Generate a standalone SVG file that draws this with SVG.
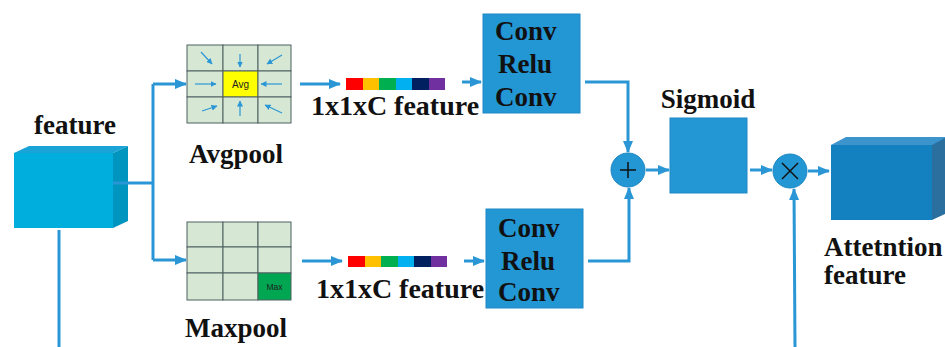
<svg xmlns="http://www.w3.org/2000/svg" width="945" height="347" viewBox="0 0 945 347">
  <style>
    .lbl { font-family: "Liberation Serif", "LiberationSerif", "Times New Roman", Times, "DejaVu Serif", serif; font-weight: 700; font-size: 27px; fill: #111; }
    .vec { font-size: 28px; }
    .small { font-family: "Liberation Sans", Arial, sans-serif; fill: #222; }
    .line { fill: none; stroke: #2A96D6; stroke-width: 3; }
    .thin { fill: none; stroke: #2A96D6; stroke-width: 1.2; }
    .cell { fill: #D6E8D3; stroke: #4E6060; stroke-width: 1; }
    .blk { fill: #2396D4; stroke: #1E88C4; stroke-width: 1; }
    .op { fill: #2396D4; stroke: #1E88C4; stroke-width: 1; }
  </style>
  <defs>
    <marker id="arr" markerUnits="userSpaceOnUse" markerWidth="12" markerHeight="10" refX="11" refY="5" orient="auto">
      <path d="M0,0 L12,5 L0,10 Z" fill="#2A96D6"/>
    </marker>
    <marker id="arrs" markerUnits="userSpaceOnUse" markerWidth="6" markerHeight="6" refX="5.5" refY="3" orient="auto">
      <path d="M0,0 L6,3 L0,6 Z" fill="#2A96D6"/>
    </marker>
  </defs>

  <!-- input feature cube -->
  <g id="feature">
    <polygon points="14,153 29,146 128,146 113,153" fill="#1AA3D6"/>
    <polygon points="113,153 128,146 128,221 113,228" fill="#0095BF"/>
    <rect x="14" y="153" width="99" height="75" fill="#00AEDE"/>
    <text class="lbl" x="75" y="134" text-anchor="middle">feature</text>
  </g>

  <!-- average pooling grid -->
  <g id="avgpool">
    <rect class="cell" x="187" y="45" width="36" height="26"/>
    <rect class="cell" x="223" y="45" width="35" height="26"/>
    <rect class="cell" x="258" y="45" width="33" height="26"/>
    <rect class="cell" x="187" y="71" width="36" height="26"/>
    <rect x="223" y="71" width="35" height="26" fill="#FFFF00" stroke="#4E6060" stroke-width="1"/>
    <rect class="cell" x="258" y="71" width="33" height="26"/>
    <rect class="cell" x="187" y="97" width="36" height="26"/>
    <rect class="cell" x="223" y="97" width="35" height="26"/>
    <rect class="cell" x="258" y="97" width="33" height="26"/>
    <text class="small" x="240.5" y="88" font-size="10" text-anchor="middle">Avg</text>
    <g marker-end="url(#arrs)">
      <line class="thin" x1="201" y1="52" x2="212" y2="64"/>
      <line class="thin" x1="240" y1="54" x2="240" y2="67"/>
      <line class="thin" x1="282" y1="55" x2="267" y2="64"/>
      <line class="thin" x1="195" y1="84" x2="216" y2="84"/>
      <line class="thin" x1="282" y1="84" x2="261" y2="84"/>
      <line class="thin" x1="202" y1="111" x2="217" y2="106"/>
      <line class="thin" x1="240" y1="116" x2="240" y2="101"/>
      <line class="thin" x1="282" y1="113" x2="265" y2="105"/>
    </g>
    <text class="lbl" x="236" y="163" text-anchor="middle">Avgpool</text>
  </g>

  <!-- max pooling grid -->
  <g id="maxpool">
    <rect class="cell" x="187" y="222" width="36" height="25"/>
    <rect class="cell" x="223" y="222" width="35" height="25"/>
    <rect class="cell" x="258" y="222" width="33" height="25"/>
    <rect class="cell" x="187" y="247" width="36" height="26"/>
    <rect class="cell" x="223" y="247" width="35" height="26"/>
    <rect class="cell" x="258" y="247" width="33" height="26"/>
    <rect class="cell" x="187" y="273" width="36" height="27"/>
    <rect class="cell" x="223" y="273" width="35" height="27"/>
    <rect x="258" y="273" width="33" height="27" fill="#00A651" stroke="#4E6060" stroke-width="1"/>
    <text class="small" x="274.5" y="290" font-size="8.5" text-anchor="middle">Max</text>
    <text class="lbl" x="236" y="337" text-anchor="middle">Maxpool</text>
  </g>

  <!-- channel vectors -->
  <g id="vec-top">
    <rect x="346" y="78" width="17" height="12" fill="#FF0000"/>
    <rect x="363" y="78" width="16" height="12" fill="#FFC000"/>
    <rect x="379" y="78" width="17" height="12" fill="#00B050"/>
    <rect x="396" y="78" width="16" height="12" fill="#00B0F0"/>
    <rect x="412" y="78" width="17" height="12" fill="#002060"/>
    <rect x="429" y="78" width="16" height="12" fill="#7030A0"/>
    <text class="lbl vec" x="395" y="115" text-anchor="middle">1x1xC feature</text>
  </g>
  <g id="vec-bottom">
    <rect x="348" y="256" width="17" height="11" fill="#FF0000"/>
    <rect x="365" y="256" width="16" height="11" fill="#FFC000"/>
    <rect x="381" y="256" width="17" height="11" fill="#00B050"/>
    <rect x="398" y="256" width="16" height="11" fill="#00B0F0"/>
    <rect x="414" y="256" width="17" height="11" fill="#002060"/>
    <rect x="431" y="256" width="16" height="11" fill="#7030A0"/>
    <text class="lbl vec" x="400" y="298" text-anchor="middle">1x1xC feature</text>
  </g>

  <!-- shared MLP blocks -->
  <g id="mlp-top">
    <rect class="blk" x="483" y="14" width="97" height="99"/>
    <text class="lbl" x="495" y="40">Conv</text>
    <text class="lbl" x="498" y="73">Relu</text>
    <text class="lbl" x="495" y="106">Conv</text>
  </g>
  <g id="mlp-bottom">
    <rect class="blk" x="486" y="209" width="97" height="99"/>
    <text class="lbl" x="498" y="237">Conv</text>
    <text class="lbl" x="501" y="270">Relu</text>
    <text class="lbl" x="498" y="301">Conv</text>
  </g>

  <!-- element-wise sum -->
  <g id="add">
    <circle class="op" cx="628" cy="170" r="17"/>
    <path d="M620,170 H636 M628,162 V178" stroke="#111" stroke-width="1.5"/>
  </g>

  <!-- sigmoid -->
  <g id="sigmoid">
    <rect class="blk" x="670" y="118" width="77" height="75"/>
    <text class="lbl" x="708" y="108" text-anchor="middle">Sigmoid</text>
  </g>

  <!-- element-wise product -->
  <g id="mul">
    <circle class="op" cx="790" cy="171" r="17"/>
    <path d="M782,163 L798,179 M798,163 L782,179" stroke="#111" stroke-width="1.5"/>
  </g>

  <!-- output feature cube -->
  <g id="attention">
    <polygon points="831,145 846,137 945,137 945,145" fill="#3C94CC"/>
    <polygon points="932,145 945,138 945,214 932,220" fill="#2A6F9E"/>
    <rect x="831" y="145" width="101" height="75" fill="#1380BF"/>
    <text class="lbl" x="824" y="256">Attetntion</text>
    <text class="lbl" x="824" y="284">feature</text>
  </g>

  <!-- connectors -->
  <g id="connectors">
    <path class="line" d="M113,183 H153"/>
    <path class="line" d="M153,84 V260"/>
    <path class="line" d="M153,84 H186" marker-end="url(#arr)"/>
    <path class="line" d="M153,260 H186" marker-end="url(#arr)"/>
    <path class="line" d="M300,84 H340" marker-end="url(#arr)"/>
    <path class="line" d="M302,261 H342" marker-end="url(#arr)"/>
    <path class="line" d="M462,82 H481" marker-end="url(#arr)"/>
    <path class="line" d="M464,261 H484" marker-end="url(#arr)"/>
    <path class="line" d="M585,82 H628 V152" marker-end="url(#arr)"/>
    <path class="line" d="M588,261 H629 V188" marker-end="url(#arr)"/>
    <path class="line" d="M646,170 H669" marker-end="url(#arr)"/>
    <path class="line" d="M750,170 H772" marker-end="url(#arr)"/>
    <path class="line" d="M808,171 H829" marker-end="url(#arr)"/>
    <path class="line" d="M59,230 V347"/>
    <path class="line" d="M795,347 L794,189" marker-end="url(#arr)"/>
  </g>
</svg>
